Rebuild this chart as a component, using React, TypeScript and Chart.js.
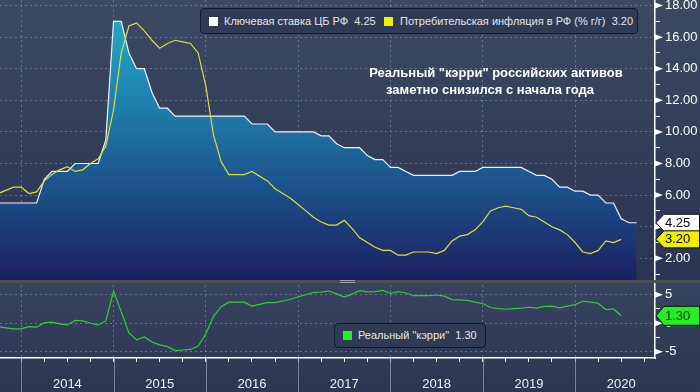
import React, { useEffect, useRef } from 'react';
import { Chart, registerables } from 'chart.js';

Chart.register(...registerables);

const FONT = '"Liberation Sans", Arial, sans-serif';

// month-end observations
const MONTHS = [
  '2013-09', '2013-10', '2013-11', '2013-12',
  '2014-01', '2014-02', '2014-03', '2014-04', '2014-05', '2014-06', '2014-07', '2014-08', '2014-09', '2014-10', '2014-11', '2014-12',
  '2015-01', '2015-02', '2015-03', '2015-04', '2015-05', '2015-06', '2015-07', '2015-08', '2015-09', '2015-10', '2015-11', '2015-12',
  '2016-01', '2016-02', '2016-03', '2016-04', '2016-05', '2016-06', '2016-07', '2016-08', '2016-09', '2016-10', '2016-11', '2016-12',
  '2017-01', '2017-02', '2017-03', '2017-04', '2017-05', '2017-06', '2017-07', '2017-08', '2017-09', '2017-10', '2017-11', '2017-12',
  '2018-01', '2018-02', '2018-03', '2018-04', '2018-05', '2018-06', '2018-07', '2018-08', '2018-09', '2018-10', '2018-11', '2018-12',
  '2019-01', '2019-02', '2019-03', '2019-04', '2019-05', '2019-06', '2019-07', '2019-08', '2019-09', '2019-10', '2019-11', '2019-12',
  '2020-01', '2020-02', '2020-03', '2020-04', '2020-05', '2020-06', '2020-07', '2020-08',
];

// Ключевая ставка ЦБ РФ
const KEY_RATE = [
  5.5, 5.5, 5.5, 5.5,
  5.5, 5.5, 7.0, 7.5, 7.5, 7.5, 8.0, 8.0, 8.0, 8.0, 9.5, 17,
  17, 15, 14, 14, 12.5, 11.5, 11.5, 11, 11, 11, 11, 11,
  11, 11, 11, 11, 11, 10.5, 10.5, 10.5, 10, 10, 10, 10,
  10, 10, 9.75, 9.75, 9.25, 9, 9, 9, 8.5, 8.25, 8.25, 7.75,
  7.75, 7.5, 7.25, 7.25, 7.25, 7.25, 7.25, 7.25, 7.5, 7.5, 7.5, 7.75,
  7.75, 7.75, 7.75, 7.75, 7.75, 7.5, 7.25, 7.25, 7.0, 6.5, 6.5, 6.25,
  6.25, 6.0, 6.0, 5.5, 5.5, 4.5, 4.25, 4.25,
];

// Потребительская инфляция (% г/г)
const CPI = [
  6.1, 6.3, 6.5, 6.5,
  6.1, 6.2, 6.9, 7.3, 7.6, 7.8, 7.5, 7.6, 8.0, 8.3, 9.1, 11.4,
  15.0, 16.7, 16.9, 16.4, 15.8, 15.3, 15.6, 15.8, 15.7, 15.6, 15.0, 12.9,
  9.8, 8.1, 7.3, 7.3, 7.3, 7.5, 7.2, 6.9, 6.4, 6.1, 5.8, 5.4,
  5.0, 4.6, 4.3, 4.1, 4.1, 4.4, 3.9, 3.3, 3.0, 2.7, 2.5, 2.5,
  2.2, 2.2, 2.4, 2.4, 2.4, 2.3, 2.5, 3.1, 3.4, 3.5, 3.8, 4.3,
  5.0, 5.2, 5.3, 5.2, 5.1, 4.7, 4.6, 4.3, 4.0, 3.8, 3.5, 3.0,
  2.4, 2.3, 2.5, 3.1, 3.0, 3.2,
];

// Реальный "кэрри"
const REAL_CARRY = [
  -0.6, -0.8, -1.0, -1.0,
  -0.6, -0.7, 0.1, 0.2, -0.1, -0.3, 0.5, 0.4, 0.0, -0.3, 0.4, 5.6,
  2.0, -1.7, -2.9, -2.4, -3.3, -3.8, -4.1, -4.8, -4.7, -4.6, -4.0, -1.9,
  1.2, 2.9, 3.7, 3.7, 3.7, 3.0, 3.3, 3.6, 3.6, 3.9, 4.2, 4.6,
  5.0, 5.4, 5.45, 5.65, 5.15, 4.6, 5.1, 5.7, 5.5, 5.55, 5.75, 5.25,
  5.55, 5.3, 4.85, 4.85, 4.85, 4.95, 4.75, 4.15, 4.1, 4.0, 3.7, 3.45,
  2.75, 2.55, 2.45, 2.55, 2.65, 2.8, 2.65, 2.95, 3.0, 2.7, 3.0, 3.25,
  3.85, 3.7, 3.5, 2.4, 2.5, 1.3,
];

const YEAR_LABELS = ['2014', '2015', '2016', '2017', '2018', '2019', '2020'];
const TOP_MAJOR_TICKS = [2, 4, 6, 8, 10, 12, 14, 16, 18];
const BOTTOM_MAJOR_TICKS = [-5, 0, 5];

const SERIES_NAMES = ['Ключевая ставка ЦБ РФ', 'Потребительская инфляция в РФ (% г/г)', 'Реальный "кэрри"'];
const NOTE_LINES = ['Реальный "кэрри" российских активов', 'заметно снизился с начала года'];

const GRID = 'rgba(140,155,185,0.55)';
const WHITE = '#eef3fa';
const YELLOW = '#dede38';
const GREEN = '#2ccf2c';

const monthEnd = (s: string) => {
  const [y, m] = s.split('-').map(Number);
  return y + m / 12;
};
const toPoints = (vals: number[]) => vals.map((v, i) => ({ x: monthEnd(MONTHS[i]), y: v }));
const last = (a: number[]) => a[a.length - 1];

function drawTag(ctx: CanvasRenderingContext2D, x: number, y: number, h: number, right: number, fill: string, text: string, textColor: string) {
  ctx.save();
  ctx.beginPath();
  ctx.moveTo(x, y);
  ctx.lineTo(x + 8, y - h / 2);
  ctx.lineTo(right, y - h / 2);
  ctx.lineTo(right, y + h / 2);
  ctx.lineTo(x + 8, y + h / 2);
  ctx.closePath();
  ctx.fillStyle = fill;
  ctx.fill();
  ctx.lineWidth = 1;
  ctx.strokeStyle = '#111';
  ctx.stroke();
  ctx.fillStyle = textColor;
  ctx.font = `13px ${FONT}`;
  ctx.textBaseline = 'middle';
  ctx.textAlign = 'left';
  ctx.fillText(text, x + 9, y + 0.5);
  ctx.restore();
}

const finite = (...v: number[]) => v.every((n) => Number.isFinite(n));

const decorPlugin = {
  id: 'decor',
  beforeDraw(chart: any) {
    const { ctx, width, height } = chart;
    const yTop = chart.scales.y;
    const yBot = chart.scales.y2;
    if (!yTop || !yBot || !finite(yTop.bottom, yBot.top)) return;
    ctx.save();
    let g = ctx.createLinearGradient(0, 0, 0, yTop.bottom);
    g.addColorStop(0, '#3d4863');
    g.addColorStop(1, '#2a3453');
    ctx.fillStyle = g;
    ctx.fillRect(0, 0, width, yTop.bottom);
    g = ctx.createLinearGradient(0, yBot.top, 0, height);
    g.addColorStop(0, '#384360');
    g.addColorStop(1, '#2c3653');
    ctx.fillStyle = g;
    ctx.fillRect(0, yBot.top, width, height - yBot.top);
    ctx.restore();
  },
  afterDraw(chart: any) {
    const { ctx, width, height } = chart;
    const x = chart.scales.x;
    const yTop = chart.scales.y;
    const yBot = chart.scales.y2;
    if (!x || !yTop || !yBot) return;
    ctx.save();
    // year separators below the axis
    ctx.strokeStyle = 'rgba(150,160,180,0.75)';
    ctx.lineWidth = 1;
    YEAR_LABELS.forEach((yl) => {
      const px = Math.round(x.getPixelForValue(Number(yl))) + 0.5;
      ctx.beginPath();
      ctx.moveTo(px, x.top);
      ctx.lineTo(px, height);
      ctx.stroke();
    });
    // panel separator
    ctx.fillStyle = '#4b4e55';
    ctx.fillRect(0, yTop.bottom - 2, width, 3);
    ctx.fillStyle = '#9a9ea6';
    ctx.fillRect(340, yTop.bottom - 2, 15, 1);
    ctx.fillRect(340, yTop.bottom, 15, 1);
    // tick arrows
    ctx.fillStyle = '#ffffff';
    const arrow = (py: number) => {
      ctx.beginPath();
      ctx.moveTo(yTop.left, py - 3);
      ctx.lineTo(yTop.left + 8, py);
      ctx.lineTo(yTop.left, py + 3);
      ctx.closePath();
      ctx.fill();
    };
    TOP_MAJOR_TICKS.forEach((v) => arrow(yTop.getPixelForValue(v)));
    BOTTOM_MAJOR_TICKS.forEach((v) => arrow(yBot.getPixelForValue(v)));
    ctx.restore();
    // value tags
    const left = yTop.left + 1;
    drawTag(ctx, left, yTop.getPixelForValue(last(KEY_RATE)), 17, width - 0.5, '#ffffff', last(KEY_RATE).toFixed(2), '#000');
    drawTag(ctx, left, yTop.getPixelForValue(last(CPI)), 17, width - 0.5, '#f0f000', last(CPI).toFixed(2), '#000');
    drawTag(ctx, left, yBot.getPixelForValue(last(REAL_CARRY)), 19, width - 0.5, '#22f022', last(REAL_CARRY).toFixed(2), '#063006');
  },
};

export default function App() {
  const ref = useRef<HTMLCanvasElement>(null);

  useEffect(() => {
    const canvas = ref.current;
    if (!canvas) return;
    const tickFont = { family: FONT, size: 13 };
    const chart = new Chart(canvas, {
      type: 'line',
      data: {
        datasets: [
          {
            label: SERIES_NAMES[0],
            data: toPoints(KEY_RATE),
            xAxisID: 'x',
            yAxisID: 'y',
            borderColor: WHITE,
            borderWidth: 1.2,
            pointRadius: 0,
            order: 3,
            fill: 'start',
            backgroundColor: (c: any) => {
              const ch = c.chart;
              const ys = ch.scales && ch.scales.y;
              const fallback = 'rgba(30,110,160,0.9)';
              if (!ys) return fallback;
              const top = ys.getPixelForValue(17.5);
              const bottom = ys.bottom;
              if (!finite(top, bottom) || bottom <= top) return fallback;
              const g = ch.ctx.createLinearGradient(0, top, 0, bottom);
              g.addColorStop(0, '#24aacb');
              g.addColorStop(0.35, '#1f7eab');
              g.addColorStop(0.7, '#1c4a85');
              g.addColorStop(1, '#1b1f5f');
              return g;
            },
          },
          {
            label: SERIES_NAMES[1],
            data: toPoints(CPI),
            xAxisID: 'x',
            yAxisID: 'y',
            borderColor: YELLOW,
            borderWidth: 1.2,
            pointRadius: 0,
            order: 1,
            fill: false,
          },
          {
            label: SERIES_NAMES[2],
            data: toPoints(REAL_CARRY),
            xAxisID: 'x',
            yAxisID: 'y2',
            borderColor: GREEN,
            borderWidth: 1.2,
            pointRadius: 0,
            order: 2,
            fill: false,
          },
        ],
      },
      options: {
        animation: false,
        responsive: false,
        devicePixelRatio: 1,
        layout: { padding: 0 },
        plugins: {
          legend: { display: false },
          tooltip: { enabled: false },
          filler: { drawTime: 'beforeDatasetsDraw' },
        },
        scales: {
          x: {
            type: 'linear',
            position: 'bottom',
            min: 2013.77,
            max: 2020.866,
            z: 1,
            afterBuildTicks: (s: any) => {
              const t: any[] = [];
              YEAR_LABELS.forEach((yl) => {
                const y0 = Number(yl);
                [0, 0.25, 0.5, 0.75].forEach((q) => t.push({ value: y0 + q }));
              });
              s.ticks = t;
            },
            afterFit: (s: any) => {
              s.height = 34;
              s.paddingLeft = 0;
              s.paddingRight = 0;
            },
            ticks: {
              autoSkip: false,
              maxRotation: 0,
              color: '#f2f2f2',
              font: tickFont,
              padding: 15,
              callback: (v: any) => {
                const base = Math.floor(v);
                return Math.abs(v - base - 0.5) < 1e-6 ? YEAR_LABELS[base - 2014] : '';
              },
            },
            grid: {
              color: (c: any) => (c.tick && Math.abs(c.tick.value - Math.round(c.tick.value)) < 1e-6 ? GRID : 'rgba(0,0,0,0)'),
              lineWidth: 1,
              tickColor: '#ffffff',
              tickWidth: 1,
              tickLength: 4,
            },
            border: { display: true, color: '#ffffff', width: 1.5, dash: [2, 3] },
          },
          y: {
            type: 'linear',
            position: 'right',
            stack: 'panels',
            stackWeight: 282,
            min: 0.5,
            max: 18.35,
            z: 1,
            afterBuildTicks: (s: any) => {
              const t: any[] = [];
              TOP_MAJOR_TICKS.forEach((v) => {
                t.push({ value: v - 1 });
                t.push({ value: v });
              });
              s.ticks = t;
            },
            afterFit: (s: any) => {
              s.width = 45;
              s.paddingTop = 0;
              s.paddingBottom = 0;
            },
            ticks: {
              autoSkip: false,
              color: '#ffffff',
              font: tickFont,
              padding: 5,
              callback: (v: any) => (TOP_MAJOR_TICKS.includes(v) ? Number(v).toFixed(2) : ''),
            },
            grid: {
              color: (c: any) => (c.tick && TOP_MAJOR_TICKS.includes(c.tick.value) ? GRID : 'rgba(0,0,0,0)'),
              lineWidth: 1,
              tickColor: '#ffffff',
              tickWidth: 1,
              tickLength: 5,
            },
            border: { display: true, color: '#ffffff', width: 1.5, dash: [2, 3] },
          },
          y2: {
            type: 'linear',
            position: 'right',
            stack: 'panels',
            stackWeight: 76,
            min: -6.1,
            max: 7.23,
            z: 1,
            afterBuildTicks: (s: any) => {
              const t: any[] = [];
              BOTTOM_MAJOR_TICKS.forEach((v, i) => {
                t.push({ value: v });
                if (i < BOTTOM_MAJOR_TICKS.length - 1) t.push({ value: (v + BOTTOM_MAJOR_TICKS[i + 1]) / 2 });
              });
              s.ticks = t;
            },
            afterFit: (s: any) => {
              s.width = 45;
              s.paddingTop = 0;
              s.paddingBottom = 0;
            },
            ticks: {
              autoSkip: false,
              color: '#ffffff',
              font: tickFont,
              padding: 5,
              callback: (v: any) => (BOTTOM_MAJOR_TICKS.includes(v) ? String(v) : ''),
            },
            grid: {
              color: (c: any) => (c.tick && BOTTOM_MAJOR_TICKS.includes(c.tick.value) ? GRID : 'rgba(0,0,0,0)'),
              lineWidth: 1,
              tickColor: '#ffffff',
              tickWidth: 1,
              tickLength: 5,
            },
            border: { display: true, color: '#ffffff', width: 1.5, dash: [2, 3] },
          },
        },
      },
      plugins: [decorPlugin],
    } as any);
    return () => chart.destroy();
  }, []);

  const legendBox: React.CSSProperties = {
    position: 'absolute',
    boxSizing: 'border-box',
    background: '#303a54',
    border: '1px solid #141925',
    borderRadius: 4,
  };
  const legendText: React.CSSProperties = {
    position: 'absolute',
    whiteSpace: 'pre',
    color: '#e4e6ea',
    fontSize: 11,
    lineHeight: '13px',
  };
  const sq = (color: string, l: number, t: number): React.CSSProperties => ({
    position: 'absolute',
    left: l,
    top: t,
    width: 9,
    height: 9,
    background: color,
  });
  const note: React.CSSProperties = {
    position: 'absolute',
    whiteSpace: 'pre',
    color: '#ffffff',
    fontWeight: 'bold',
    fontSize: 13,
    lineHeight: '16px',
    transform: 'translateX(-50%)',
  };

  return (
    <div style={{ position: 'absolute', left: 0, top: 0, width: 700, height: 392, overflow: 'hidden', fontFamily: FONT }}>
      <canvas ref={ref} width={700} height={392} style={{ display: 'block', width: 700, height: 392 }} />
      <div style={{ ...legendBox, left: 200, top: 8, width: 438, height: 26 }}>
        <div style={sq('#ffffff', 8, 8)} />
        <div style={{ ...legendText, left: 23, top: 6 }}>{`${SERIES_NAMES[0]}  ${last(KEY_RATE).toFixed(2)}`}</div>
        <div style={sq('#f0f000', 183, 8)} />
        <div style={{ ...legendText, left: 199, top: 6 }}>{`${SERIES_NAMES[1]}  ${last(CPI).toFixed(2)}`}</div>
      </div>
      <div style={{ ...legendBox, left: 334, top: 323, width: 152, height: 25 }}>
        <div style={sq('#22f022', 8, 7)} />
        <div style={{ ...legendText, left: 23, top: 5 }}>{`${SERIES_NAMES[2]}  ${last(REAL_CARRY).toFixed(2)}`}</div>
      </div>
      <div style={{ ...note, left: 496, top: 65 }}>{NOTE_LINES[0]}</div>
      <div style={{ ...note, left: 490, top: 82 }}>{NOTE_LINES[1]}</div>
    </div>
  );
}
